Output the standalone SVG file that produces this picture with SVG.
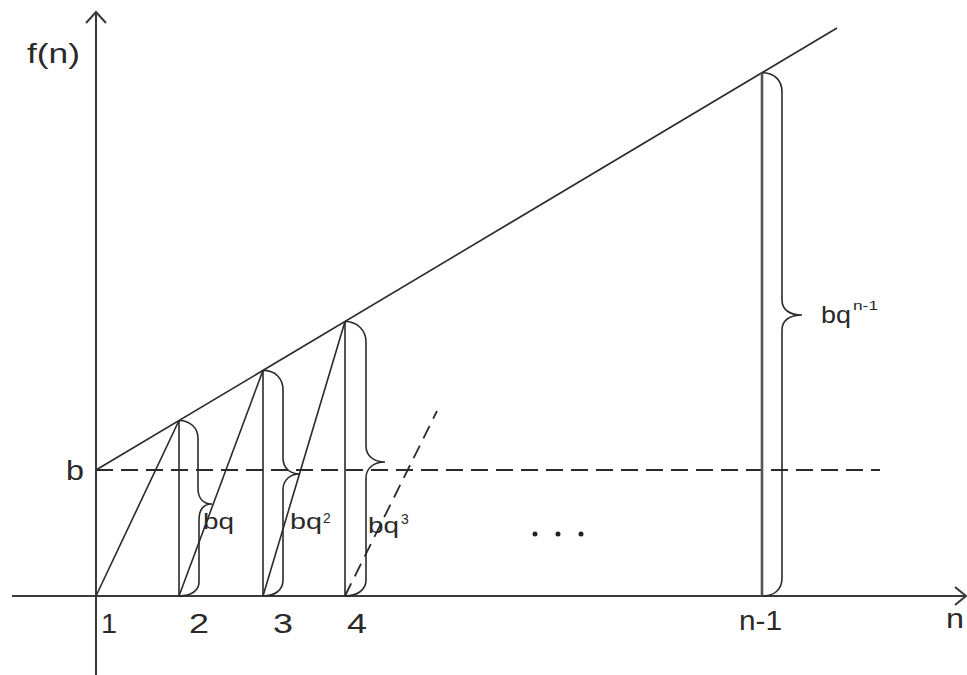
<svg xmlns="http://www.w3.org/2000/svg" width="967" height="675" viewBox="0 0 967 675">
<style>
.ln{stroke:#2a2a2a;stroke-width:1.6;fill:none}
.ax{stroke:#3a3a3a;stroke-width:2;fill:none}
.ds{stroke:#2a2a2a;stroke-width:1.8;fill:none;stroke-dasharray:17 8}
.br{stroke:#2a2a2a;stroke-width:1.6;fill:none}
.t{font-family:"Liberation Sans",Arial,sans-serif;fill:#2a2a2a}
</style>
<rect width="967" height="675" fill="#fff"/>
<g id="axes">
<line class="ax" x1="96" y1="12" x2="96" y2="675"/>
<polyline class="ax" points="86,23 96,12 106,23"/>
<line class="ax" x1="12" y1="596" x2="966" y2="596"/>
<polyline class="ax" points="955,587 966,596 955,605"/>
</g>
<g id="connectors">
<line class="ln" x1="96" y1="470" x2="837" y2="28"/>
<line class="ds" x1="96" y1="470" x2="880" y2="470"/>
<line class="ln" x1="179" y1="420.5" x2="179" y2="596"/>
<line class="ln" x1="263" y1="370.4" x2="263" y2="596"/>
<line class="ln" x1="345" y1="321.5" x2="345" y2="596"/>
<line stroke="#555" stroke-width="2.6" x1="762" y1="72.7" x2="762" y2="596"/>
<line class="ln" x1="96" y1="596" x2="179" y2="420.5"/>
<line class="ln" x1="179" y1="596" x2="263" y2="370.4"/>
<line class="ln" x1="263" y1="596" x2="345" y2="321.5"/>
<line class="ds" style="stroke-dasharray:14 8" x1="345" y1="596" x2="437" y2="411"/>
</g>
<g id="braces">
<path class="br" d="M179,420.5 C190,420.5 198,428 198,438 L198,488 C198,498 203,504 212,504 C203,504 199,510 199,520 L199,582 C199,590 192,596 179,596"/>
<path class="br" d="M263,370.4 C275,370.4 283,378 283,390 L283,458 C283,468 290,474 300,474 C290,474 283,480 283,490 L283,580 C283,590 275,596 263,596"/>
<path class="br" d="M345,321.5 C357,321.5 366,330 366,342 L366,446 C366,456 374,462 385,462 C374,462 366,468 366,478 L366,580 C366,590 357,596 345,596"/>
<path class="br" d="M762,72.7 C774,72.7 782,80 782,92 L782,300 C782,310 790,315 802,315 C790,315 782,320 782,330 L782,578 C782,590 774,596 762,596"/>
</g>
<g id="labels">
<text class="t" x="27" y="63" font-size="27" textLength="53" lengthAdjust="spacingAndGlyphs">f(n)</text>
<text class="t" x="66" y="480" font-size="27" textLength="18" lengthAdjust="spacingAndGlyphs">b</text>
<text class="t" x="101" y="633" font-size="27" textLength="16" lengthAdjust="spacingAndGlyphs">1</text>
<text class="t" x="189" y="633" font-size="27" textLength="20" lengthAdjust="spacingAndGlyphs">2</text>
<text class="t" x="273" y="633" font-size="27" textLength="20" lengthAdjust="spacingAndGlyphs">3</text>
<text class="t" x="347" y="633" font-size="27" textLength="20" lengthAdjust="spacingAndGlyphs">4</text>
<text class="t" x="739" y="630" font-size="27" textLength="43" lengthAdjust="spacingAndGlyphs">n-1</text>
<text class="t" x="946" y="628" font-size="27" textLength="18" lengthAdjust="spacingAndGlyphs">n</text>
<text class="t" x="203" y="529" font-size="22" textLength="31" lengthAdjust="spacingAndGlyphs">bq</text>
<text class="t" x="290" y="529" font-size="22" textLength="32" lengthAdjust="spacingAndGlyphs">bq</text>
<text class="t" x="323" y="523" font-size="14">2</text>
<text class="t" x="368" y="533" font-size="22" textLength="31" lengthAdjust="spacingAndGlyphs">bq</text>
<text class="t" x="401" y="524" font-size="14">3</text>
<text class="t" x="821" y="323" font-size="24" textLength="30" lengthAdjust="spacingAndGlyphs">bq</text>
<text class="t" x="853" y="310" font-size="12" textLength="25" lengthAdjust="spacingAndGlyphs">n-1</text>
<circle cx="535" cy="534" r="2.5" fill="#222"/>
<circle cx="558" cy="534" r="2.5" fill="#222"/>
<circle cx="581" cy="534" r="2.5" fill="#222"/>
</g>
</svg>
